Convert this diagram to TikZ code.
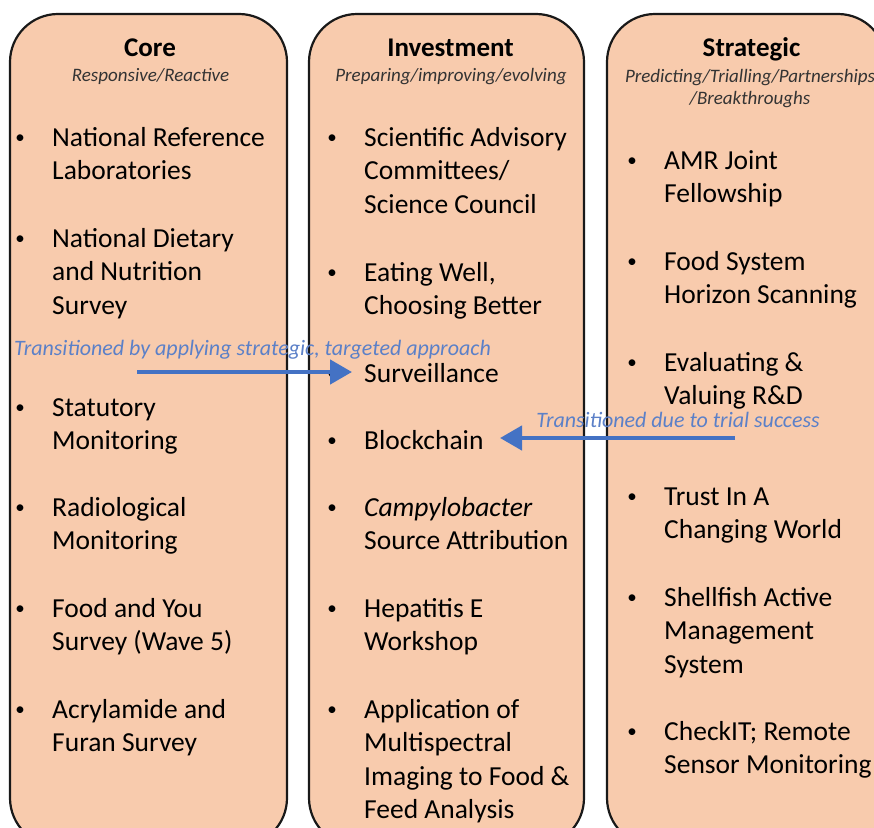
\documentclass[tikz,border=0pt]{standalone}
\usepackage{fontspec}
\setmainfont{Carlito}
\usetikzlibrary{arrows.meta}
\definecolor{peach}{HTML}{F8CBAD}
\definecolor{arrowblue}{HTML}{4472C4}
\definecolor{labelblue}{HTML}{5B80C8}
\newcommand\bodyf{\fontsize{27.5}{33.5}\selectfont}
\newcommand\itx[1]{\parbox[t]{300pt}{\bodyf #1}}
\begin{document}
\begin{tikzpicture}[x=1pt,y=-1pt,
  column/.style={draw=black!90, line width=2.2pt, fill=peach, rounded corners=48pt},
  item/.style={anchor=base west, inner sep=0pt, font=\bodyf},
  bul/.style={anchor=base, inner sep=0pt, yshift=3pt, font=\fontsize{19}{22}\selectfont},
  ttl/.style={anchor=base, inner sep=0pt, font=\fontsize{27}{30}\selectfont\bfseries},
  sub/.style={anchor=base, inner sep=0pt, font=\fontsize{19}{22}\selectfont\itshape, text=black!80},
  lab/.style={anchor=base, inner sep=0pt, font=\fontsize{22}{24}\selectfont\itshape, text=labelblue},
  flow/.style={-{Triangle[length=22pt,width=24pt]}, line width=4.5pt, draw=arrowblue}
]
\useasboundingbox (0,0) rectangle (874,827);
\clip (0,0) rectangle (874,827);
\fill[white] (0,0) rectangle (874,827);

% columns
\draw[column] (10,14) rectangle (287,846);
\draw[column] (309,14) rectangle (584,846);
\draw[column] (607,14) rectangle (886,846);

% headers
\node[ttl] (tcore) at (150,56) {Core};
\node[sub] (score) at (150.5,81.5) {Responsive/Reactive};
\node[ttl] (tinv) at (450.5,56) {Investment};
\node[sub] (sinv) at (451,81.5) {Preparing/improving/evolving};
\node[ttl] (tstr) at (751.5,56) {Strategic};
\node[sub] (sstra) at (750,82.5) {Predicting/Trialling/Partnerships};
\node[sub] (sstrb) at (750,104.5) {/Breakthroughs};

% core items
\node[bul] (cb1) at (20,146) {•};
\node[item] (c1) at (52,146) {\itx{National Reference\\Laboratories}};
\node[bul] (cb2) at (20,247) {•};
\node[item] (c2) at (52,247) {\itx{National Dietary\\and Nutrition\\Survey}};
\node[bul] (cb3) at (20,416) {•};
\node[item] (c3) at (52,416) {\itx{Statutory\\Monitoring}};
\node[bul] (cb4) at (20,516) {•};
\node[item] (c4) at (52,516) {\itx{Radiological\\Monitoring}};
\node[bul] (cb5) at (20,617) {•};
\node[item] (c5) at (52,617) {\itx{Food and You\\Survey (Wave 5)}};
\node[bul] (cb6) at (20,718) {•};
\node[item] (c6) at (52,718) {\itx{Acrylamide and\\Furan Survey}};

% investment items
\node[bul] (ib1) at (332,146) {•};
\node[item] (i1) at (364,146) {\itx{Scientific Advisory\\Committees/\\Science Council}};
\node[bul] (ib2) at (332,281) {•};
\node[item] (i2) at (364,281) {\itx{Eating Well,\\Choosing Better}};
\node[bul] (ib3) at (332,382) {•};
\node[item] (i3) at (364,382) {\itx{Surveillance}};
\node[bul] (ib4) at (332,449) {•};
\node[item] (i4) at (364,449) {\itx{Blockchain}};
\node[bul] (ib5) at (332,516) {•};
\node[item] (i5) at (364,516) {\itx{\textit{Campylobacter}\\Source Attribution}};
\node[bul] (ib6) at (332,617) {•};
\node[item] (i6) at (364,617) {\itx{Hepatitis E\\Workshop}};
\node[bul] (ib7) at (332,718) {•};
\node[item] (i7) at (364,718) {\itx{Application of\\Multispectral\\Imaging to Food \&\\Feed Analysis}};

% strategic items
\node[bul] (sb1) at (632,169) {•};
\node[item] (s1) at (664,169) {\itx{AMR Joint\\Fellowship}};
\node[bul] (sb2) at (632,270) {•};
\node[item] (s2) at (664,270) {\itx{Food System\\Horizon Scanning}};
\node[bul] (sb3) at (632,371) {•};
\node[item] (s3) at (664,371) {\itx{Evaluating \&\\Valuing R\&D}};
\node[bul] (sb4) at (632,505) {•};
\node[item] (s4) at (664,505) {\itx{Trust In A\\Changing World}};
\node[bul] (sb5) at (632,606) {•};
\node[item] (s5) at (664,606) {\itx{Shellfish Active\\Management\\System}};
\node[bul] (sb6) at (632,740) {•};
\node[item] (s6) at (664,740) {\itx{CheckIT; Remote\\Sensor Monitoring}};

% transitions
\node[lab] (lab1) at (252.5,355) {Transitioned by applying strategic, targeted approach};
\node[lab] (lab2) at (678,427) {Transitioned due to trial success};
\coordinate (a1s) at (137,372);
\coordinate (a1e) at (352,372);
\coordinate (a2s) at (735,438);
\coordinate (a2e) at (500,438);
\draw[flow] (a1s) -- (a1e);
\draw[flow] (a2s) -- (a2e);
\end{tikzpicture}
\end{document}
